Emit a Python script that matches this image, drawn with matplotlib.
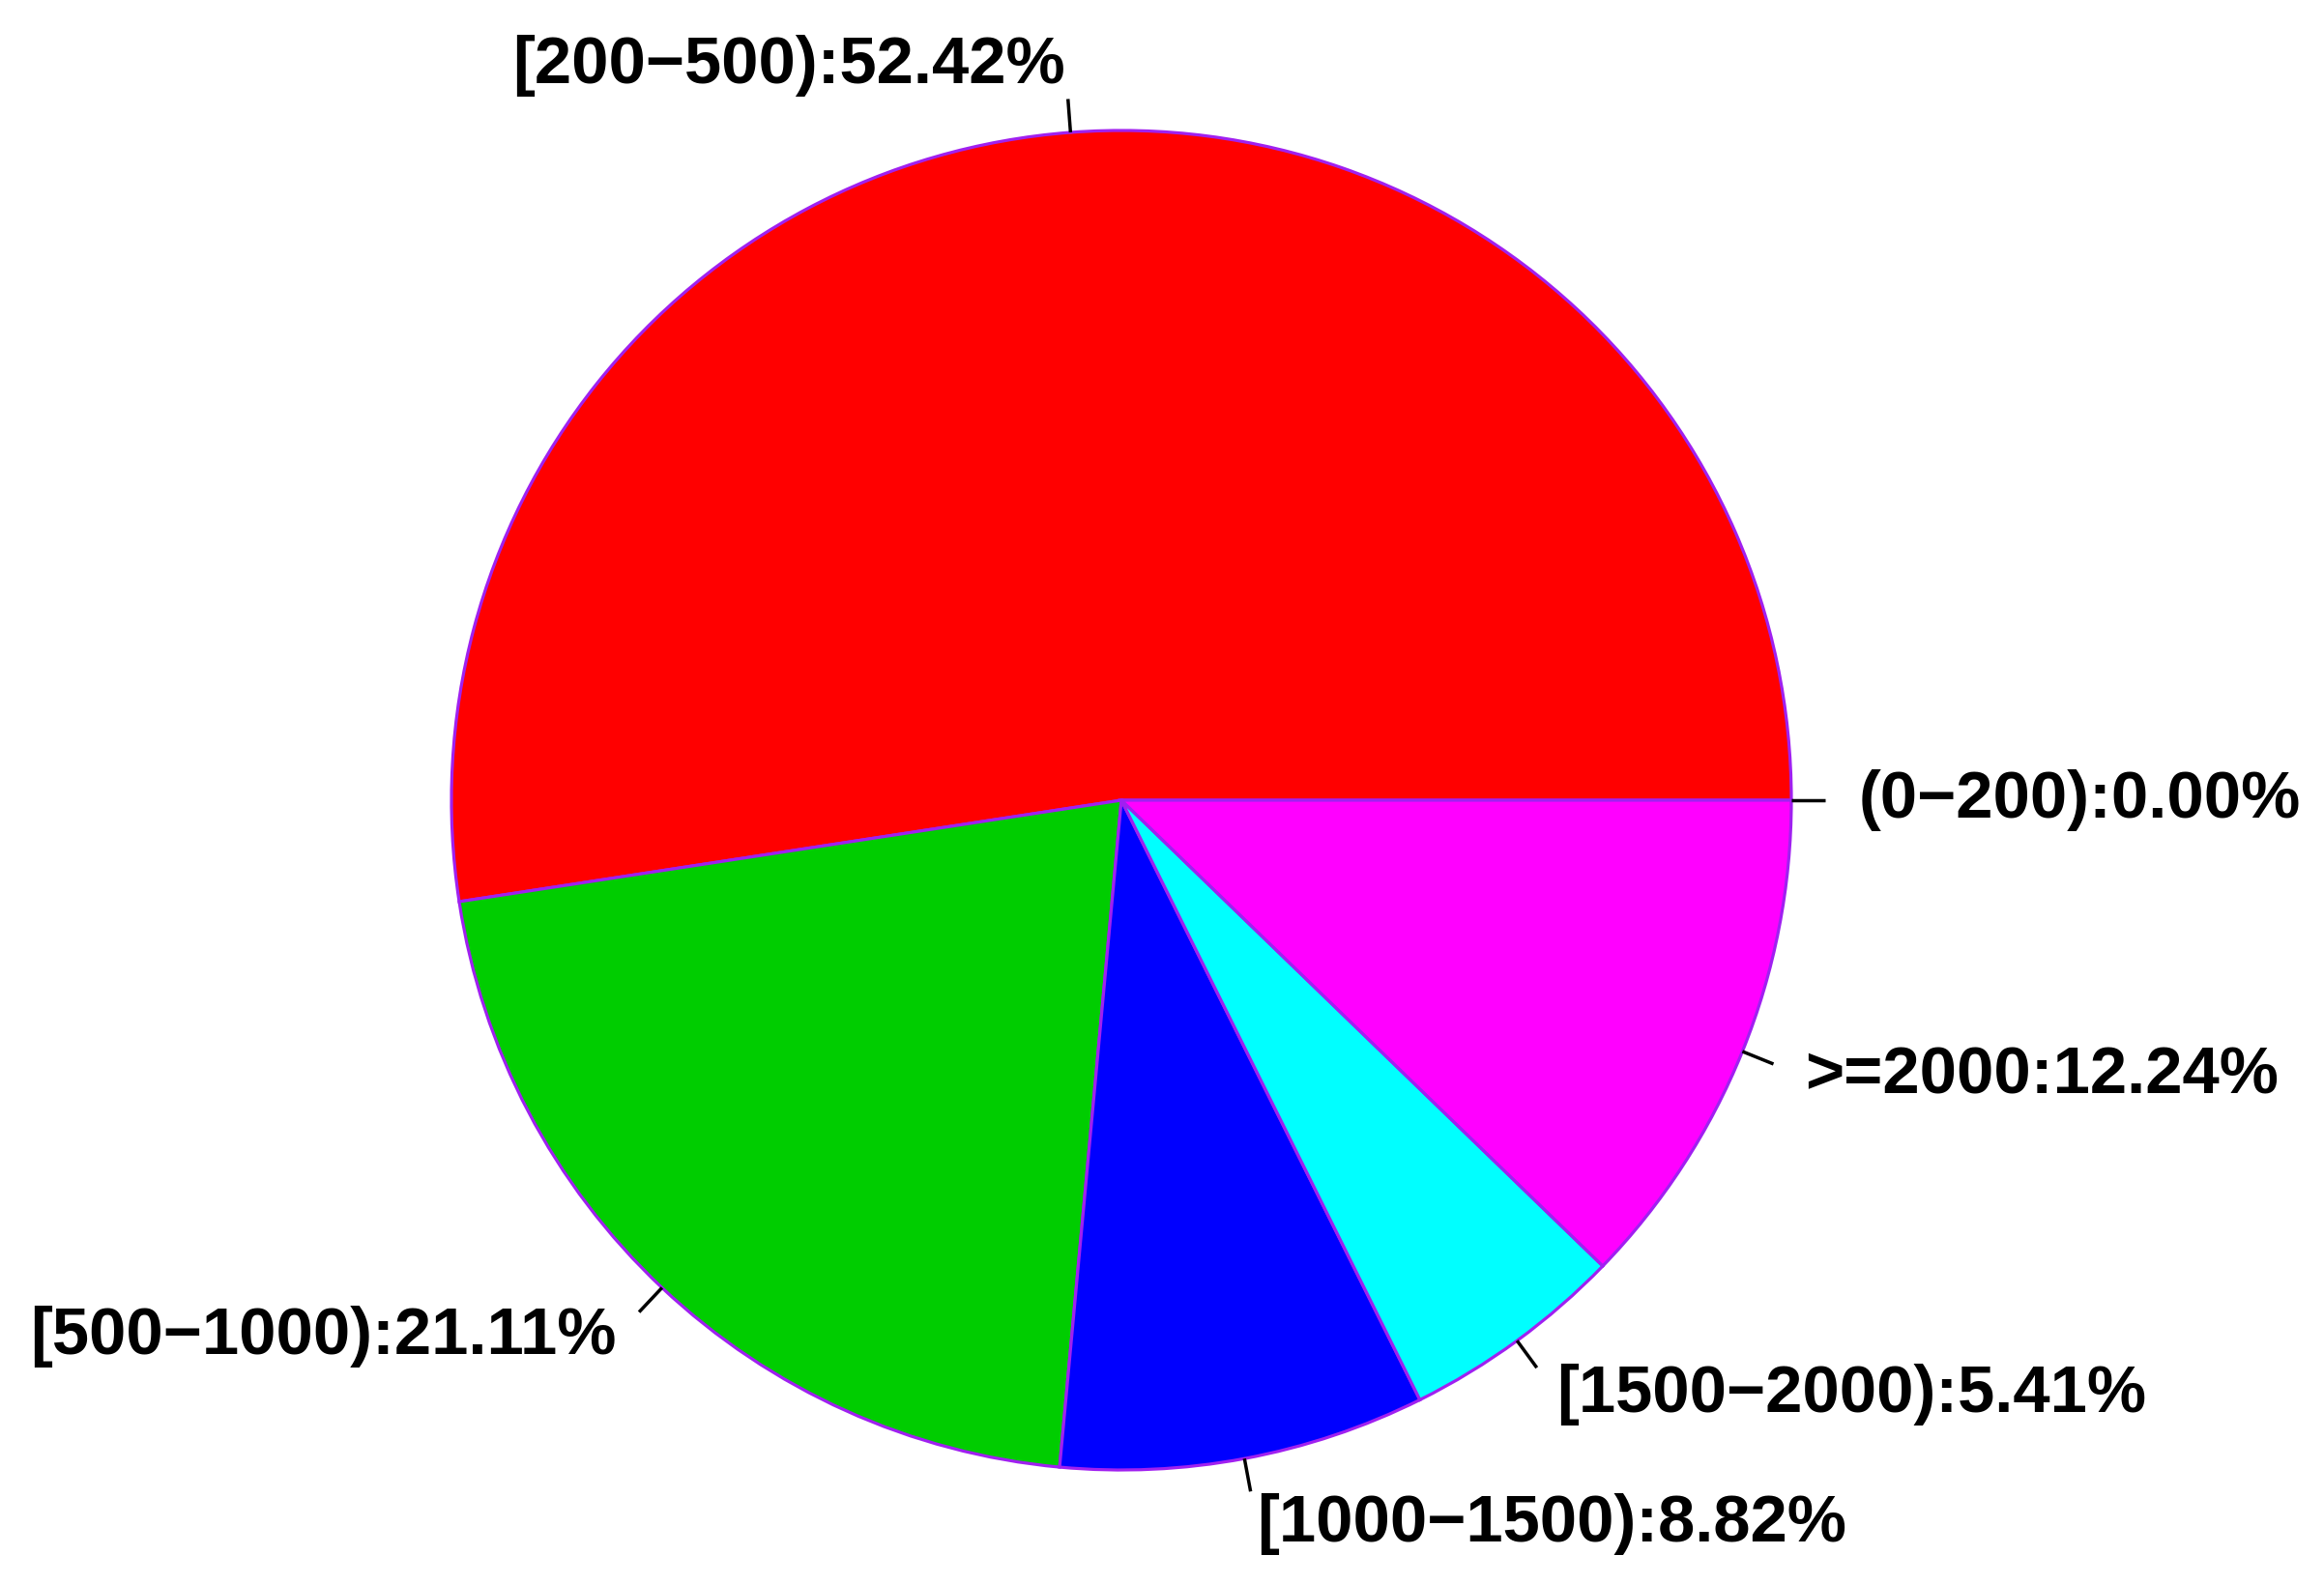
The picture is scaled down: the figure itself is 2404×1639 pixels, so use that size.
import numpy as np
import matplotlib.pyplot as plt

# slice data, in drawing order (counter-clockwise from 3 o'clock)
categories = ["(0\u2212200)", "[200\u2212500)", "[500\u22121000)",
              "[1000\u22121500)", "[1500\u22122000)", ">=2000"]
percents = [0.00, 52.42, 21.11, 8.82, 5.41, 12.24]
colors = ["#000000", "#FF0000", "#00CD00", "#0000FF", "#00FFFF", "#FF00FF"]

BORDER = "#A020F0"
FONT = "Liberation Sans"

W, H = 2404, 1639
CX, CY, R = 1160, 828, 693  # pie centre and radius in pixels

fig = plt.figure(figsize=(W / 100, H / 100), dpi=100)
ax = fig.add_axes([0, 0, 1, 1])
ax.axis("off")

ax.pie(percents, colors=colors, startangle=0, counterclock=True, radius=1,
       wedgeprops=dict(edgecolor=BORDER, linewidth=2.3))
ax.set_aspect("equal")
ax.set_xlim(-CX / R, (W - CX) / R)
ax.set_ylim(-(H - CY) / R, CY / R)

total = sum(percents)
cum = 0.0
for cat, p in zip(categories, percents):
    mid = 2 * np.pi * (cum + p / 2) / total
    cum += p
    c, s = np.cos(mid), np.sin(mid)
    ax.plot([c, 1.05 * c], [s, 1.05 * s], color="black", lw=2.5, solid_capstyle="butt")
    ax.text(1.1 * c, 1.1 * s, "%s:%.2f%%" % (cat, p),
            ha="left" if c > 0 else "right", va="center",
            fontsize=49.5, fontweight="bold", family=FONT)

fig.savefig("out.png", dpi=100)
